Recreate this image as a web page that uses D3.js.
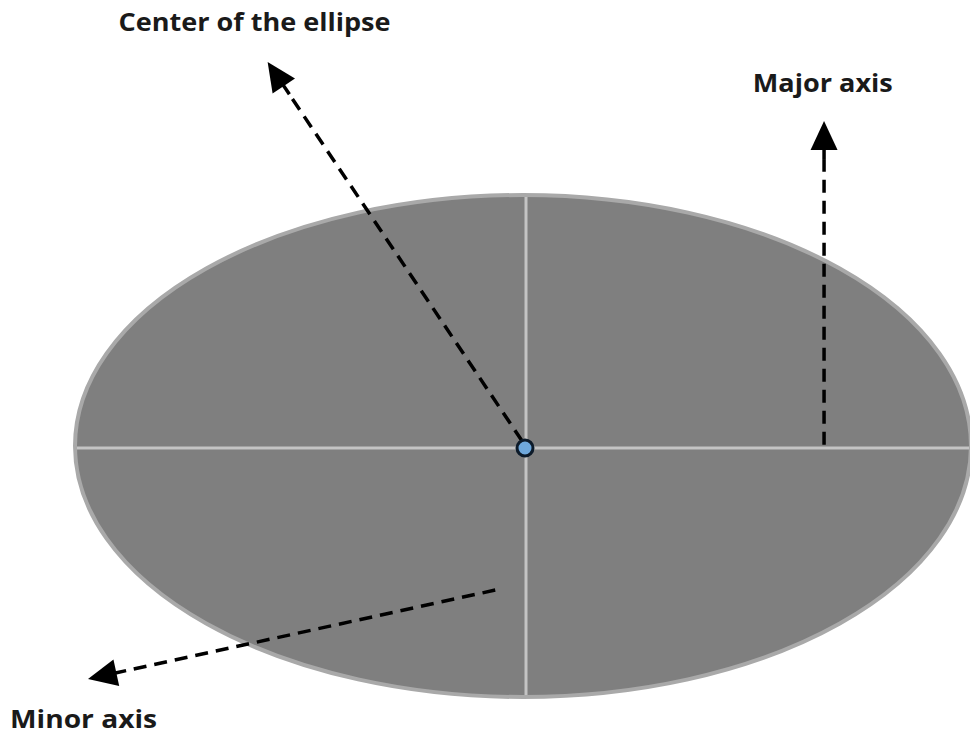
<!DOCTYPE html>
<html><head><meta charset="utf-8">
<script src="https://cdn.jsdelivr.net/npm/d3@7/dist/d3.min.js"></script>
<style>html,body{margin:0;padding:0;background:#fff;}svg{display:block;}</style>
</head><body>
<script>
// Ellipse in data units: center (0,0), semi-axes 1 x 1 (scaled to pixels)
const ellipseCenter = [0, 0];
const ellipseRadii = [1, 1];
// Arrows: starts and tips in data units
const arrowNames = ["center", "major", "minor"];
const arrowStarts = [[-0.002, 0.02], [0.672, 0.005], [-0.062, -0.574]];
const arrowTips = [[-0.57, 1.53], [0.672, 1.295], [-0.971, -0.928]];
// Labels
const labelTexts = ["Center of the ellipse", "Major axis", "Minor axis"];
const labelPos = [[-0.903, 1.655], [0.513, 1.41], [-1.145, -1.122]];
const labelWidths = [272, 140, 147];

const W = 970, H = 736;
const x = d3.scaleLinear().domain([-1, 1]).range([75, 971]);
const y = d3.scaleLinear().domain([-1, 1]).range([697, 195]);

const svg = d3.select("body").append("svg").attr("width", W).attr("height", H);

const cx = x(ellipseCenter[0]), cy = y(ellipseCenter[1]);
const rx = x(ellipseRadii[0]) - cx, ry = cy - y(ellipseRadii[1]);

svg.append("ellipse").attr("cx", cx).attr("cy", cy).attr("rx", rx).attr("ry", ry)
  .attr("fill", "#7f7f7f").attr("stroke", "#a9a9a9").attr("stroke-width", 4);

// crosshair
svg.append("line").attr("x1", x(-1) + 2).attr("x2", x(1) - 2).attr("y1", cy + 2).attr("y2", cy + 2)
  .attr("stroke", "#c4c4c4").attr("stroke-width", 3);
svg.append("line").attr("x1", cx + 3).attr("x2", cx + 3).attr("y1", y(1) + 2).attr("y2", y(-1) - 2)
  .attr("stroke", "#c4c4c4").attr("stroke-width", 3);

// arrows
const headLen = 29, headW = 13.5, stem = 10;
arrowNames.forEach((n, i) => {
  const sx = x(arrowStarts[i][0]), sy = y(arrowStarts[i][1]);
  const tx = x(arrowTips[i][0]), ty = y(arrowTips[i][1]);
  const ang = Math.atan2(ty - sy, tx - sx);
  const c = Math.cos(ang), s = Math.sin(ang);
  const bx = tx - headLen * c, by = ty - headLen * s;
  const ex = tx - (headLen + stem) * c, ey = ty - (headLen + stem) * s;
  svg.append("line").attr("x1", sx).attr("y1", sy).attr("x2", ex).attr("y2", ey)
    .attr("stroke", "#000").attr("stroke-width", 3.5).attr("stroke-dasharray", "13,8");
  svg.append("line").attr("x1", ex).attr("y1", ey).attr("x2", bx + 2 * c).attr("y2", by + 2 * s)
    .attr("stroke", "#000").attr("stroke-width", 3.5);
  const px = -s, py = c;
  const pts = [[tx, ty], [bx + px * headW, by + py * headW], [bx - px * headW, by - py * headW]];
  svg.append("polygon").attr("points", pts.map(p => p.join(",")).join(" ")).attr("fill", "#000");
});

// center dot
svg.append("circle").attr("cx", cx + 2).attr("cy", cy + 2).attr("r", 8)
  .attr("fill", "#6fa8dc").attr("stroke", "#0d1b2a").attr("stroke-width", 3);

// labels
labelTexts.forEach((t, i) => {
  svg.append("text").attr("x", x(labelPos[i][0])).attr("y", y(labelPos[i][1]))
    .attr("font-family", "'Open Sans', Lato, sans-serif").attr("font-weight", "bold")
    .attr("font-size", 25).attr("fill", "#1a1a1a")
    .attr("textLength", labelWidths[i]).attr("lengthAdjust", "spacingAndGlyphs")
    .text(t);
});
</script>
</body></html>
